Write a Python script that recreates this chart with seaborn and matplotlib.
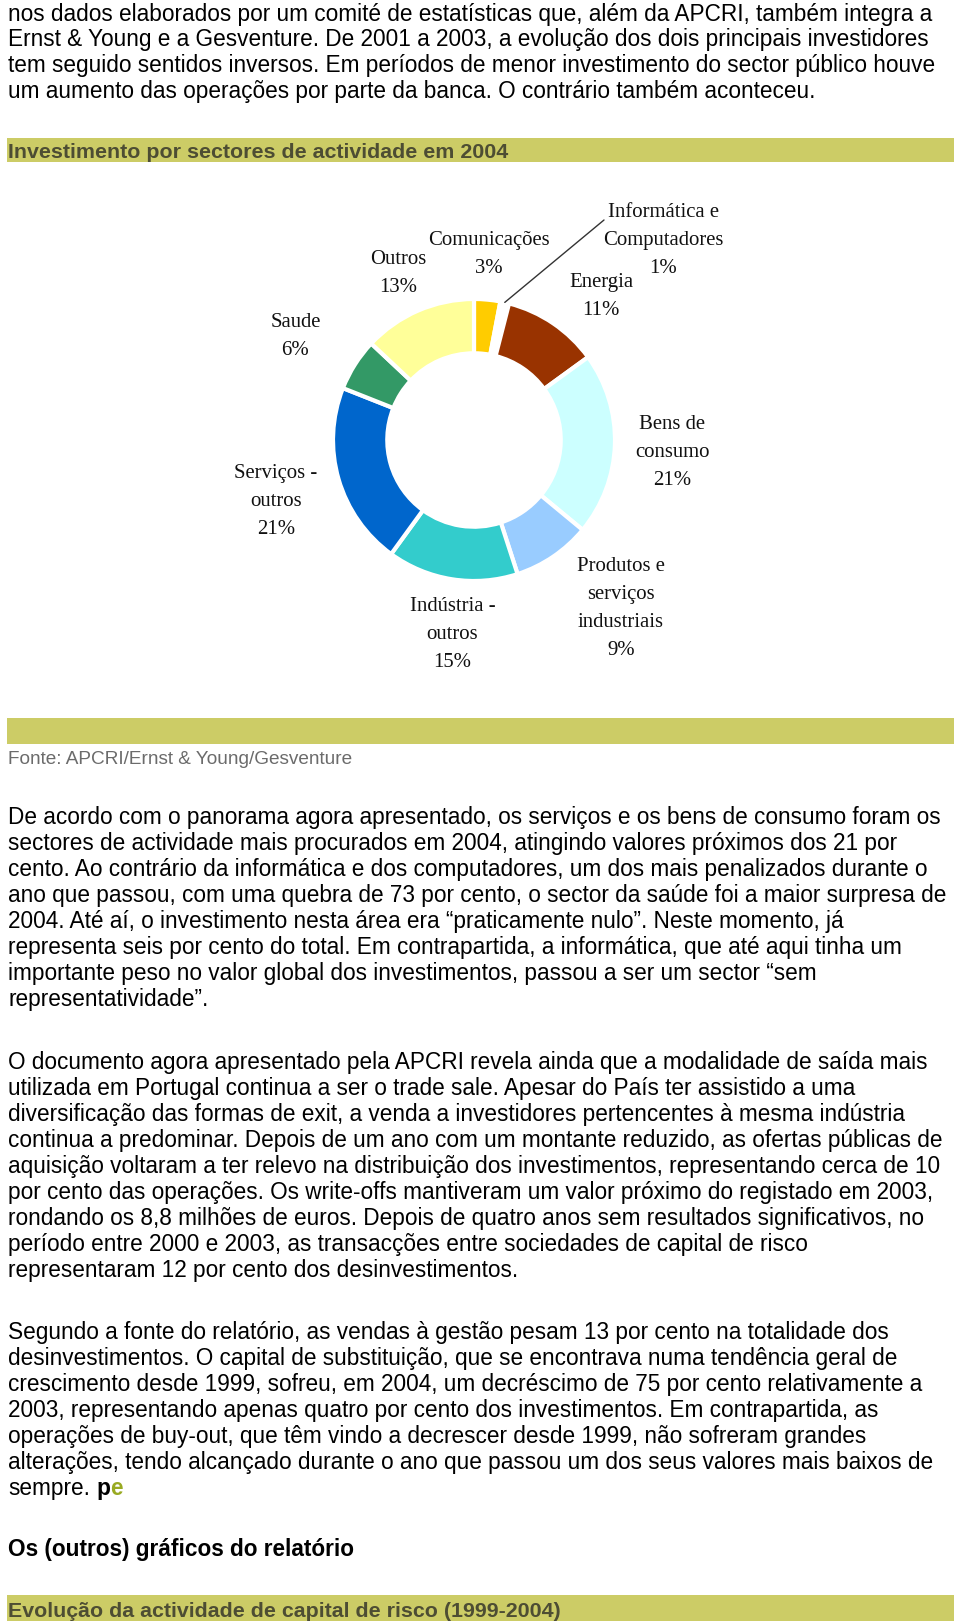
import matplotlib
matplotlib.use("Agg")
import matplotlib.pyplot as plt
import numpy as np
import pandas as pd
import seaborn as sns

sns.set_theme(style="white")
plt.rcParams["font.family"] = ["Liberation Sans", "DejaVu Sans"]

# ---------------- data ----------------
sectors = ["Comunicações", "Informática e\nComputadores", "Energia", "Bens de\nconsumo",
           "Produtos e\nserviços\nindustriais", "Indústria -\noutros", "Serviços -\noutros",
           "Saude", "Outros"]
shares = [3, 1, 11, 21, 9, 15, 21, 6, 13]
sector_colors = ["#FFCC00", "#FFFFFF", "#993300", "#CCFFFF", "#99CCFF", "#33CCCC",
                 "#0066CC", "#339966", "#FFFF99"]

chart_title = "Investimento por sectores de actividade em 2004"
source_note = "Fonte: APCRI/Ernst & Young/Gesventure"
section_title = "Os (outros) gráficos do relatório"
next_title = "Evolução da actividade de capital de risco (1999-2004)"

para1 = [
    "nos dados elaborados por um comité de estatísticas que, além da APCRI, também integra a",
    "Ernst & Young e a Gesventure. De 2001 a 2003, a evolução dos dois principais investidores",
    "tem seguido sentidos inversos. Em períodos de menor investimento do sector público houve",
    "um aumento das operações por parte da banca. O contrário também aconteceu.",
]
para2 = [
    "De acordo com o panorama agora apresentado, os serviços e os bens de consumo foram os",
    "sectores de actividade mais procurados em 2004, atingindo valores próximos dos 21 por",
    "cento. Ao contrário da informática e dos computadores, um dos mais penalizados durante o",
    "ano que passou, com uma quebra de 73 por cento, o sector da saúde foi a maior surpresa de",
    "2004. Até aí, o investimento nesta área era “praticamente nulo”. Neste momento, já",
    "representa seis por cento do total. Em contrapartida, a informática, que até aqui tinha um",
    "importante peso no valor global dos investimentos, passou a ser um sector “sem",
    "representatividade”.",
]
para3 = [
    "O documento agora apresentado pela APCRI revela ainda que a modalidade de saída mais",
    "utilizada em Portugal continua a ser o trade sale. Apesar do País ter assistido a uma",
    "diversificação das formas de exit, a venda a investidores pertencentes à mesma indústria",
    "continua a predominar. Depois de um ano com um montante reduzido, as ofertas públicas de",
    "aquisição voltaram a ter relevo na distribuição dos investimentos, representando cerca de 10",
    "por cento das operações. Os write-offs mantiveram um valor próximo do registado em 2003,",
    "rondando os 8,8 milhões de euros. Depois de quatro anos sem resultados significativos, no",
    "período entre 2000 e 2003, as transacções entre sociedades de capital de risco",
    "representaram 12 por cento dos desinvestimentos.",
]
para4 = [
    "Segundo a fonte do relatório, as vendas à gestão pesam 13 por cento na totalidade dos",
    "desinvestimentos. O capital de substituição, que se encontrava numa tendência geral de",
    "crescimento desde 1999, sofreu, em 2004, um decréscimo de 75 por cento relativamente a",
    "2003, representando apenas quatro por cento dos investimentos. Em contrapartida, as",
    "operações de buy-out, que têm vindo a decrescer desde 1999, não sofreram grandes",
    "alterações, tendo alcançado durante o ano que passou um dos seus valores mais baixos de",
    "sempre.",
]
signature = ["p", "e"]

# ---------------- layout ----------------
W, H = 960, 1624
fig = plt.figure(figsize=(W / 100, H / 100), dpi=100)
fig.patch.set_facecolor("white")
ax = fig.add_axes([0, 0, 1, 1])
ax.set_xlim(0, W)
ax.set_ylim(H, 0)
ax.axis("off")
rend = fig.canvas.get_renderer()

BAR = "#CCCC66"
TITLE_C = "#4d4d33"
X0 = 8.3


def fit_size(text, target_w, **kw):
    t = ax.text(0, 0, text, fontsize=10, **kw)
    w = t.get_window_extent(renderer=rend).width
    t.remove()
    return 10 * target_w / w


body_fs = fit_size(para2[0], 933)
head_fs = fit_size(chart_title, 499, fontweight="bold")
src_fs = fit_size(source_note, 346)
sec_fs = fit_size(section_title, 348, fontweight="bold")


def line_text(x, yc, s, fs, **kw):
    base = yc + 0.36 * fs * 100 / 72
    return ax.text(x, base, s, fontsize=fs, va="baseline", ha="left", **kw)


def paragraph(lines, y0, pitch=26.0):
    objs = []
    for i, s in enumerate(lines):
        objs.append(line_text(X0, y0 + i * pitch, s, body_fs, color="black"))
    return objs

paragraph(para1, 12.4, 25.9)
paragraph(para2, 816.0)
paragraph(para3, 1060.5)
p4 = paragraph(para4, 1331.0)

# signature "pe" after "sempre."
last = p4[-1]
bb = last.get_window_extent(renderer=rend)
xp = bb.x1 + body_fs * 100 / 72 * 0.28
yc_last = 1331.0 + 6 * 26.0
tp = line_text(xp, yc_last, signature[0], body_fs, color="black", fontweight="bold")
bbp = tp.get_window_extent(renderer=rend)
line_text(bbp.x1, yc_last, signature[1], body_fs, color="#99AA22", fontweight="bold")

# header bars
for (y0, y1) in [(138.8, 162.6), (718.7, 744.6), (1596.0, 1622.0)]:
    ax.axhspan(y0, y1, xmin=7 / W, xmax=954 / W, color=BAR, lw=0, zorder=0)

line_text(X0, 150.0, chart_title, head_fs, color=TITLE_C, fontweight="bold")
line_text(X0, 757.0, source_note, src_fs, color="#6b6b6b")
line_text(X0, 1548.0, section_title, sec_fs, color="black", fontweight="bold")
line_text(X0, 1609.0, next_title, head_fs, color=TITLE_C, fontweight="bold")

# ---------------- donut chart ----------------
cx, cy, R = 474.0, 441.0, 141.0
half = 1.25 * R
pax = fig.add_axes([(cx - half) / W, (H - cy - half) / H, 2 * half / W, 2 * half / H])
df = pd.DataFrame({"sector": sectors, "share": shares, "color": sector_colors})
wedges, _ = pax.pie(df["share"], colors=df["color"], startangle=90, counterclock=False,
                    radius=1.0, wedgeprops=dict(width=0.385, edgecolor="white", linewidth=3.0))
pax.set_xlim(-1.25, 1.25)
pax.set_ylim(-1.25, 1.25)
pax.set_aspect("equal")
pax.axis("off")

# leader line to the thin "Informática" wedge
cum = np.cumsum([0] + shares)
mid = (cum[1] + cum[2]) / 2 / cum[-1] * 2 * np.pi
tip = (np.sin(mid) * 1.0, np.cos(mid) * 1.0)
pax.annotate("", xy=tip, xycoords="data", xytext=(604 / W, 1 - 221 / H),
             textcoords="figure fraction",
             arrowprops=dict(arrowstyle="-", color="#333333", lw=1.0, shrinkA=0, shrinkB=0))

# labels (positions in page pixels: x centre, first line centre)
label_pos = [(489, 238), (663, 210), (601, 280), (672, 422.5), (621, 564),
             (452.5, 604), (276, 471), (295.5, 320), (398, 257)]
serif = ["Liberation Serif", "DejaVu Serif"]
lab_fs = fit_size("Comunicações", 122, family=serif)
for name, val, (lx, ly) in zip(sectors, shares, label_pos):
    lines = name.split("\n") + [f"{val}%"]
    for i, s in enumerate(lines):
        yc = ly + i * 28.0
        ax.text(lx, yc + 0.33 * lab_fs * 100 / 72, s, fontsize=lab_fs, family=serif,
                ha="center", va="baseline", color="#111111")

fig.savefig("out.png", dpi=100, facecolor="white")
